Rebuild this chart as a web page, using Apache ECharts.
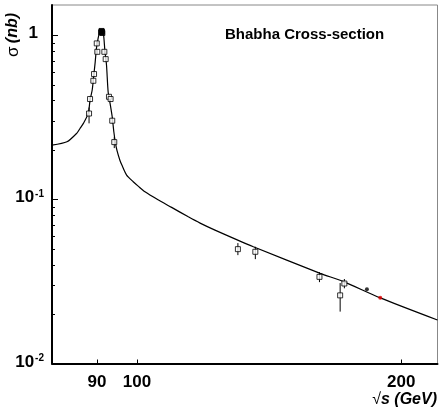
<!DOCTYPE html>
<html>
<head>
<meta charset="utf-8">
<script src="https://cdn.jsdelivr.net/npm/echarts@6/dist/echarts.min.js"></script>
<style>
html,body{margin:0;padding:0;background:#fff;}
#chart{width:439px;height:417px;}
</style>
</head>
<body>
<div id="chart"></div>
<script>
// ---- data (sqrt(s) in GeV, sigma in nb) ----
const curveE = [80.0, 83.2, 85.4, 86.1, 86.9, 88.0, 88.4, 88.9, 89.2, 89.6, 89.9, 90.3, 90.6, 91.0, 91.3, 91.6, 91.9, 92.3, 92.7, 93.2, 93.7, 94.1, 94.5, 94.9, 95.6, 96.1, 97.3, 99.0, 100.3, 102.1, 105.8, 109.5, 114.4, 118.0, 122.7, 135.7, 161.7, 171.9, 189.3, 220.0];
const curveS = [0.214, 0.224, 0.253, 0.270, 0.291, 0.335, 0.402, 0.463, 0.547, 0.685, 0.833, 0.959, 1.028, 1.058, 1.050, 1.000, 0.810, 0.657, 0.450, 0.380, 0.317, 0.257, 0.220, 0.197, 0.173, 0.1615, 0.1404, 0.128, 0.1203, 0.111, 0.0989, 0.0893, 0.0782, 0.0716, 0.0649, 0.0514, 0.0354, 0.0315, 0.0251, 0.0184];

const openE  = [88.17, 88.4, 89.17, 89.33, 89.97, 90.1, 91.78, 92.1, 92.9, 93.3, 93.7, 94.2, 130.3, 136.4, 161.4, 170.4, 172.3];
const openS  = [0.333, 0.408, 0.527, 0.579, 0.890, 0.791, 0.791, 0.714, 0.421, 0.408, 0.301, 0.223, 0.0497, 0.0479, 0.0337, 0.0260, 0.0307];
const openLo = [0.290, 0.390, 0.505, 0.555, 0.860, 0.765, 0.765, 0.690, 0.405, 0.392, 0.288, 0.205, 0.0457, 0.0432, 0.0313, 0.0207, 0.0287];
const openHi = [0.362, 0.426, 0.550, 0.603, 0.920, 0.817, 0.817, 0.738, 0.437, 0.424, 0.314, 0.240, 0.0541, 0.0514, 0.0360, 0.0309, 0.0327];

const peakE = [91.0, 91.1, 91.2, 91.3];
const peakS = [1.04, 1.06, 1.05, 1.03];
const blackE = [182.8];
const blackS = [0.0283];
const redE = [189.3];
const redS = [0.0251];

const xTickVals = [90, 100, 200];
const yMajorVals = [0.01, 0.1, 1];
const yMinorVals = [0.02,0.03,0.04,0.05,0.06,0.07,0.08,0.09,0.2,0.3,0.4,0.5,0.6,0.7,0.8,0.9];
const xRange = [80, 220];
const yRange = [0.01, 1.525];

const L = Math.log10;
const FONT = 'Liberation Sans, Arial, Helvetica, sans-serif';
const pair = (E, S) => E.map((e, i) => [L(e), L(S[i])]);

const chart = echarts.init(document.getElementById('chart'), null, {renderer: 'canvas'});
const baseGraphics = [
  {type: 'text', x: 225, y: 35, style: {text: 'Bhabha Cross-section', font: 'bold 15px ' + FONT, fill: '#000', textAlign: 'left', textVerticalAlign: 'middle'}},
  {type: 'text', x: 13, y: 35, rotation: Math.PI / 2, style: {
    text: '{g|σ} {n|(nb)}', textAlign: 'center', textVerticalAlign: 'middle',
    rich: {
      g: {font: '17px ' + FONT, fill: '#000'},
      n: {font: 'italic bold 16px ' + FONT, fill: '#000'}
    }}},
  {type: 'text', x: 437, y: 400, style: {
    text: '{r|√}{n|s (GeV)}', textAlign: 'right', textVerticalAlign: 'middle',
    rich: {
      r: {font: '16px ' + FONT, fill: '#000'},
      n: {font: 'italic bold 16px ' + FONT, fill: '#000'}
    }}}
];
const option = {
  animation: false,
  backgroundColor: '#fff',
  grid: {left: 52, top: 5, right: 1.5, bottom: 53.5, show: true, borderColor: '#888', borderWidth: 1, backgroundColor: 'transparent'},
  xAxis: {
    type: 'value', min: L(xRange[0]), max: L(xRange[1]), position: 'bottom',
    axisLine: {onZero: false, lineStyle: {color: '#000', width: 2}},
    axisTick: {show: true, inside: true, length: 4, customValues: xTickVals.map(L), lineStyle: {color: '#000', width: 1}},
    axisLabel: {customValues: xTickVals.map(L), formatter: v => String(Math.round(Math.pow(10, v))),
      fontSize: 17, fontWeight: 'bold', color: '#000', fontFamily: FONT, margin: 10},
    splitLine: {show: false}
  },
  yAxis: {
    type: 'value', min: L(yRange[0]), max: L(yRange[1]), position: 'left',
    axisLine: {show: true, onZero: false, lineStyle: {color: '#000', width: 2}},
    axisTick: {show: false},
    axisLabel: {
      customValues: yMajorVals.map(L), margin: 8, padding: [0, 0, 3, 0],
      formatter: v => {
        const k = Math.round(v);
        if (k === 0) return '{o|1}';
        return '{b|10}{s|' + k + '}';
      },
      rich: {
        o: {fontSize: 17, fontWeight: 'bold', color: '#000', fontFamily: FONT, lineHeight: 17, padding: [0, 6, 0, 0]},
        b: {fontSize: 17, fontWeight: 'bold', color: '#000', fontFamily: FONT, lineHeight: 17, verticalAlign: 'bottom'},
        s: {fontSize: 10, fontWeight: 'bold', color: '#000', fontFamily: FONT, lineHeight: 10, verticalAlign: 'top', padding: [0, 0, 10, 1]}
      }
    },
    splitLine: {show: false}
  },
  series: [
    {type: 'line', data: pair(curveE, curveS), showSymbol: false, smooth: 0.25,
     lineStyle: {color: '#000', width: 1.2}, z: 2, silent: true},
    {type: 'custom', z: 3, silent: true,
     data: openE.map((e, i) => [L(e), L(openLo[i]), L(openHi[i])]),
     encode: {x: 0, y: [1, 2]},
     renderItem: (params, api) => {
       const p1 = api.coord([api.value(0), api.value(1)]);
       const p2 = api.coord([api.value(0), api.value(2)]);
       return {type: 'line', shape: {x1: p1[0], y1: p1[1], x2: p2[0], y2: p2[1]}, style: {stroke: '#000', lineWidth: 1}};
     }},
    {type: 'scatter', data: pair(openE, openS), symbol: 'rect', symbolSize: 5, z: 4,
     itemStyle: {color: '#fff', borderColor: '#000', borderWidth: 1}},
    {type: 'scatter', data: pair(peakE, peakS), symbol: 'rect', symbolSize: 5, z: 5,
     itemStyle: {color: '#000', borderColor: '#000', borderWidth: 1}},
    {type: 'scatter', data: pair(blackE, blackS), symbol: 'circle', symbolSize: 4, z: 5,
     itemStyle: {color: '#000'}},
    {type: 'scatter', data: pair(redE, redS), symbol: 'circle', symbolSize: 4, z: 5,
     itemStyle: {color: '#e00000'}}
  ],
  graphic: baseGraphics
};
chart.setOption(option);

// y tick marks (major and log-spaced minor): positions from the axes' own scales
const tickGraphics = [];
const finder = {gridIndex: 0};
yMajorVals.forEach(v => {
  const p = chart.convertToPixel(finder, [L(xRange[0]), L(v)]);
  const y = Math.round(p[1]) + 0.5;
  tickGraphics.push({type: 'line', z: 100, shape: {x1: p[0], y1: y, x2: p[0] + 6, y2: y}, style: {stroke: '#000', lineWidth: 1}});
});
yMinorVals.forEach(v => {
  const p = chart.convertToPixel(finder, [L(xRange[0]), L(v)]);
  const y = Math.round(p[1]) + 0.5;
  tickGraphics.push({type: 'line', z: 100, shape: {x1: p[0], y1: y, x2: p[0] + 3, y2: y}, style: {stroke: '#000', lineWidth: 1}});
});
chart.setOption({graphic: baseGraphics.concat(tickGraphics)});
</script>
</body>
</html>
